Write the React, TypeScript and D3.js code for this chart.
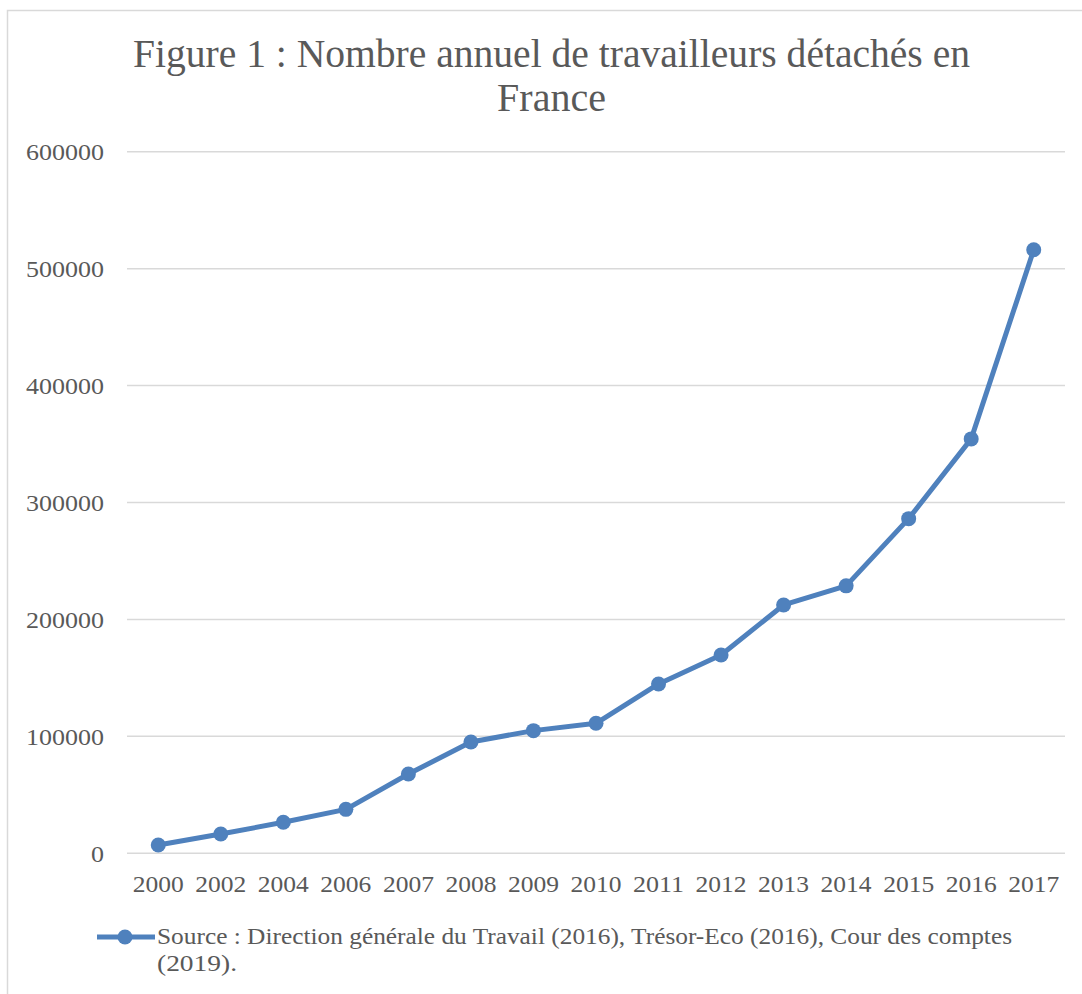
import React, { useEffect, useRef } from 'react';
import * as d3 from 'd3';

const years = ['2000', '2002', '2004', '2006', '2007', '2008', '2009', '2010', '2011', '2012', '2013', '2014', '2015', '2016', '2017'];
const workers = [7100, 16500, 26500, 37600, 67800, 95200, 104900, 111200, 144800, 169600, 212400, 228700, 286200, 354400, 516100];
const yTicks = [0, 100000, 200000, 300000, 400000, 500000, 600000];
const titleLines = ['Figure 1 : Nombre annuel de travailleurs détachés en', 'France'];
const legendLines = ['Source : Direction générale du Travail (2016), Trésor-Eco (2016), Cour des comptes', '(2019).'];

const App = () => {
  const svgRef = useRef<SVGSVGElement>(null);

  useEffect(() => {
    const width = 1082;
    const height = 994;
    const font = "'Liberation Serif', serif";
    const textColor = '#595959';
    const blue = '#4f81bd';
    const digitW = 13; // Cambria-ish digit width

    d3.select(svgRef.current).selectAll('*').remove();

    const svg = d3.select(svgRef.current).attr('width', width).attr('height', height);

    // Chart frame (right and bottom edges fall outside the picture)
    svg
      .append('rect')
      .attr('x', 7.5)
      .attr('y', 10.5)
      .attr('width', 1100)
      .attr('height', 1100)
      .attr('fill', '#fff')
      .attr('stroke', '#d9d9d9')
      .attr('stroke-width', 1.5);

    // Scales
    const x = d3.scalePoint().domain(years).range([127, 1065]).padding(0.5);
    const y = d3.scaleLinear().domain([0, 600000]).range([853.3, 151.7]);

    // Gridlines
    svg
      .selectAll('line.grid')
      .data(yTicks)
      .join('line')
      .attr('class', 'grid')
      .attr('x1', 127)
      .attr('x2', 1065)
      .attr('y1', (d) => y(d))
      .attr('y2', (d) => y(d))
      .attr('stroke', '#d9d9d9')
      .attr('stroke-width', 1.5);

    // Y labels
    svg
      .selectAll('text.ytick')
      .data(yTicks)
      .join('text')
      .attr('class', 'ytick')
      .attr('x', 104)
      .attr('y', (d) => y(d) + 8.5)
      .attr('text-anchor', 'end')
      .attr('font-family', font)
      .attr('font-size', 24)
      .attr('fill', textColor)
      .attr('textLength', (d) => String(d).length * digitW)
      .attr('lengthAdjust', 'spacingAndGlyphs')
      .text((d) => String(d));

    // X labels
    svg
      .selectAll('text.xtick')
      .data(years)
      .join('text')
      .attr('class', 'xtick')
      .attr('x', (d) => x(d)!)
      .attr('y', 892)
      .attr('text-anchor', 'middle')
      .attr('font-family', font)
      .attr('font-size', 24)
      .attr('fill', textColor)
      .attr('textLength', (d) => d.length * 12.75)
      .attr('lengthAdjust', 'spacingAndGlyphs')
      .text((d) => d);

    // Line + markers
    const line = d3
      .line<number>()
      .x((_, i) => x(years[i])!)
      .y((d) => y(d));

    svg
      .append('path')
      .datum(workers)
      .attr('d', line)
      .attr('fill', 'none')
      .attr('stroke', blue)
      .attr('stroke-width', 5)
      .attr('stroke-linejoin', 'round');

    svg
      .selectAll('circle.pt')
      .data(workers)
      .join('circle')
      .attr('class', 'pt')
      .attr('cx', (_, i) => x(years[i])!)
      .attr('cy', (d) => y(d))
      .attr('r', 7.5)
      .attr('fill', blue);

    // Title
    svg
      .selectAll('text.title')
      .data(titleLines)
      .join('text')
      .attr('class', 'title')
      .attr('x', 551.5)
      .attr('y', (_, i) => 67 + i * 44)
      .attr('text-anchor', 'middle')
      .attr('font-family', font)
      .attr('font-size', 40)
      .attr('fill', textColor)
      .attr('textLength', (_, i) => (i === 0 ? 837 : null))
      .attr('lengthAdjust', 'spacingAndGlyphs')
      .text((d) => d);

    // Legend
    svg
      .append('line')
      .attr('x1', 97)
      .attr('x2', 155)
      .attr('y1', 937)
      .attr('y2', 937)
      .attr('stroke', blue)
      .attr('stroke-width', 5);
    svg
      .append('circle')
      .attr('cx', 125)
      .attr('cy', 937)
      .attr('r', 7.5)
      .attr('fill', blue);

    svg
      .selectAll('text.legend')
      .data(legendLines)
      .join('text')
      .attr('class', 'legend')
      .attr('x', 157)
      .attr('y', (_, i) => 944 + i * 27)
      .attr('font-family', font)
      .attr('font-size', 24)
      .attr('fill', textColor)
      .attr('textLength', (_, i) => (i === 0 ? 855 : 80))
      .attr('lengthAdjust', 'spacingAndGlyphs')
      .text((d) => d);
  }, []);

  return <svg ref={svgRef} style={{ position: 'absolute', left: 0, top: 0 }}></svg>;
};

export default App;
